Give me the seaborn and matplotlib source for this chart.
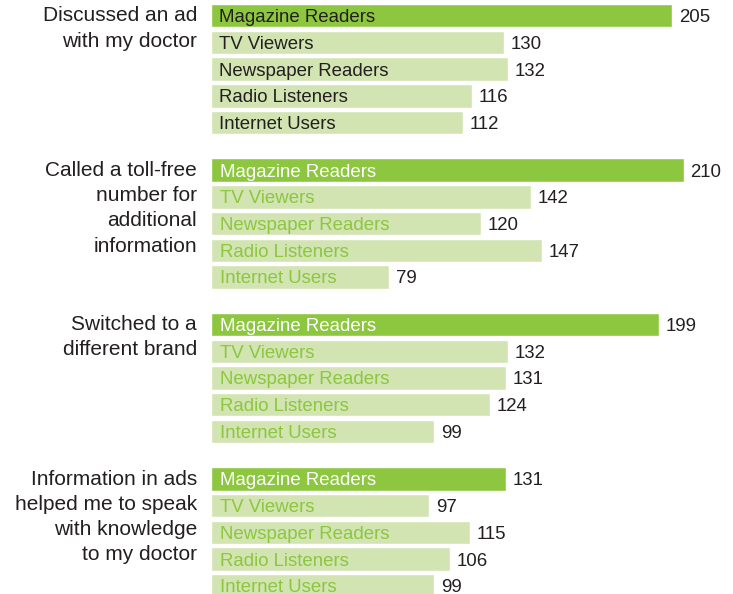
import pandas as pd
import matplotlib.pyplot as plt
import seaborn as sns

# groups (left labels) and audiences
groups = [
    "Discussed an ad\nwith my doctor",
    "Called a toll-free\nnumber for\nadditional\ninformation",
    "Switched to a\ndifferent brand",
    "Information in ads\nhelped me to speak\nwith knowledge\nto my doctor",
]
audiences = ["Magazine Readers", "TV Viewers", "Newspaper Readers",
             "Radio Listeners", "Internet Users"]

discussed = [205, 130, 132, 116, 112]
called = [210, 142, 120, 147, 79]
switched = [199, 132, 131, 124, 99]
informed = [131, 97, 115, 106, 99]
values = [discussed, called, switched, informed]

DARK = "#8dc63f"
LIGHT = "#d1e4b1"

sns.set_theme(style="white")
plt.rcParams['font.family'] = ['Liberation Sans', 'DejaVu Sans']

W, H = 733, 594
fig = plt.figure(figsize=(W / 100, H / 100), dpi=100)

x0 = 211          # left edge of bars, px
px_per_unit = 2.25
pitch = 26.7      # bar pitch, px
group_step = 154.4
first_top = 2.4

for i, (label, vals) in enumerate(zip(groups, values)):
    top = first_top + i * group_step
    height = pitch * 5
    ax = fig.add_axes([x0 / W, 1 - (top + height) / H, 1 - x0 / W, height / H])
    df = pd.DataFrame({"audience": audiences, "value": vals})
    sns.barplot(data=df, x="value", y="audience", hue="audience",
                palette=[DARK] + [LIGHT] * 4, width=0.88, ax=ax,
                legend=False, saturation=1)
    ax.set_xlim(0, (W - x0) / px_per_unit)
    ax.set_ylim(4.5, -0.5)
    ax.axis("off")

    for j, (name, v) in enumerate(zip(audiences, vals)):
        if i == 0:
            tc = "#231f20"
        else:
            tc = "white" if j == 0 else DARK
        ax.annotate(name, xy=(0, j), xytext=(9 if i else 8, -2),
                    textcoords="offset pixels", ha="left", va="center",
                    fontsize=13.4, color=tc)
        ax.annotate(str(v), xy=(v, j), xytext=(7, -2),
                    textcoords="offset pixels", ha="left", va="center",
                    fontsize=13.4, color="#231f20")

    ax.annotate(label, xy=(0, -0.5), xytext=(-14, -4),
                textcoords="offset pixels", ha="right", va="top",
                fontsize=15, color="#231f20", linespacing=1.42,
                annotation_clip=False)

fig.savefig("out.png", dpi=100)
